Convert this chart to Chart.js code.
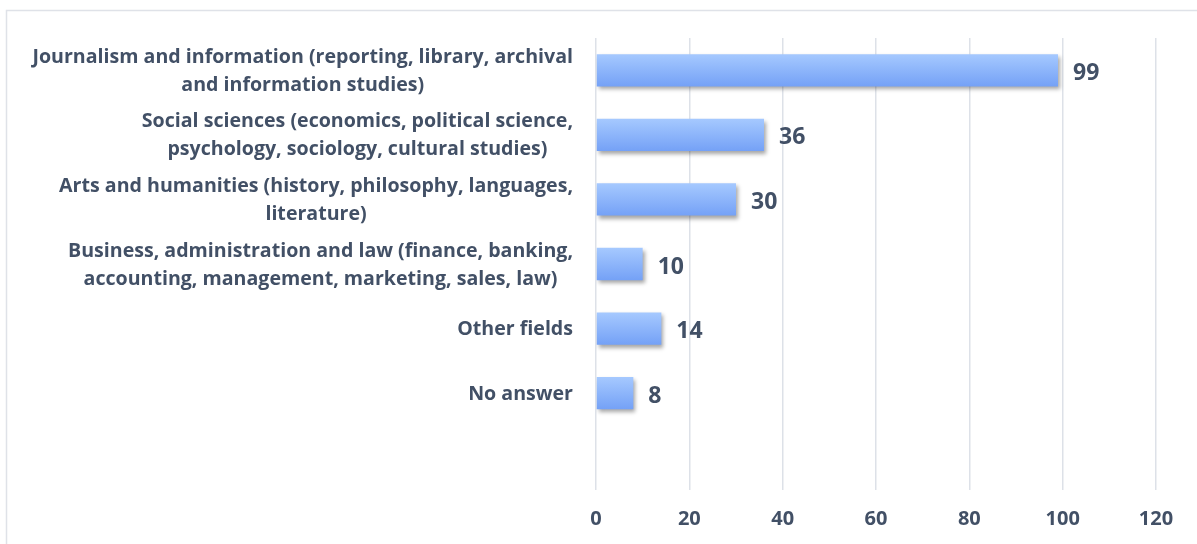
<!DOCTYPE html>
<html>
<head>
<meta charset="utf-8">
<script src="https://cdn.jsdelivr.net/npm/chart.js@4"></script>
<style>
  html, body { margin: 0; padding: 0; background: #fff; }
  #wrap { width: 1197px; height: 544px; position: relative; }
</style>
</head>
<body>
<div id="wrap"><canvas id="barChart"></canvas></div>
<script>
// categories (last one left empty, as in the original axis)
const categories = [
  ["Journalism and information (reporting, library, archival", "and information studies)"],
  ["Social sciences (economics, political science,", "psychology, sociology, cultural studies)"],
  ["Arts and humanities (history, philosophy, languages,", "literature)"],
  ["Business, administration and law (finance, banking,", "accounting, management, marketing, sales, law)"],
  ["Other fields"],
  ["No answer"],
  [""]
];
const counts = [99, 36, 30, 10, 14, 8, null];
const xTicks = [0, 20, 40, 60, 80, 100, 120];

const textColor = "#425066";
const fontFamily = "'Open Sans', Lato, sans-serif";

// bar fill: vertical gradient per bar
function barFill(ctx) {
  const chart = ctx.chart;
  const y = chart.scales.y;
  if (!y || !chart.chartArea) return "#8fb6fb";
  const c = y.getPixelForValue(ctx.dataIndex);
  const half = 17;
  const g = chart.ctx.createLinearGradient(0, c - half, 0, c + half);
  g.addColorStop(0, "#a7caff");
  g.addColorStop(1, "#73a0f6");
  return g;
}

const framePlugin = {
  id: "frame",
  beforeDraw(chart) {
    const c = chart.ctx;
    c.save();
    c.strokeStyle = "#dfe2e8";
    c.lineWidth = 1.5;
    c.strokeRect(6.5, 10.5, 1250, 600);
    c.restore();
  }
};

const shadowPlugin = {
  id: "barShadow",
  beforeDatasetsDraw(chart) {
    const c = chart.ctx;
    c.save();
    c.shadowColor = "rgba(0,0,0,0.35)";
    c.shadowBlur = 4;
    c.shadowOffsetX = 2;
    c.shadowOffsetY = 3;
  },
  afterDatasetsDraw(chart) {
    chart.ctx.restore();
  }
};

// value labels next to bars
const valueLabels = {
  id: "valueLabels",
  afterDatasetsDraw(chart) {
    const c = chart.ctx;
    const meta = chart.getDatasetMeta(0);
    c.save();
    c.fillStyle = textColor;
    c.font = "bold 23px " + fontFamily;
    c.textBaseline = "middle";
    c.textAlign = "left";
    meta.data.forEach((bar, i) => {
      if (counts[i] == null) return;
      c.fillText(String(counts[i]), bar.x + 15, bar.y + 3);
    });
    c.restore();
  }
};

// category labels: block right-aligned, lines centred within the block
const catLabels = {
  id: "catLabels",
  afterDraw(chart) {
    const c = chart.ctx;
    const y = chart.scales.y;
    const right = chart.chartArea.left - 23;
    const lh = 28;
    c.save();
    c.fillStyle = textColor;
    c.font = "bold 19.6px " + fontFamily;
    c.textBaseline = "middle";
    c.textAlign = "center";
    categories.forEach((lines, i) => {
      const w = Math.max(...lines.map(l => c.measureText(l).width));
      const cx = right - w / 2;
      const cy = y.getPixelForValue(i) + 1;
      const top = cy - (lines.length - 1) * lh / 2;
      lines.forEach((l, k) => c.fillText(l, cx, top + k * lh));
    });
    c.restore();
  }
};

new Chart(document.getElementById("barChart"), {
  type: "bar",
  data: {
    labels: categories,
    datasets: [
      {
        data: counts,
        backgroundColor: barFill,
        barPercentage: 0.5,
        categoryPercentage: 1,
      },
    ],
  },
  options: {
    indexAxis: "y",
    responsive: true,
    maintainAspectRatio: false,
    animation: false,
    layout: { padding: { top: 38, right: 41, left: 0, bottom: 0 } },
    plugins: {
      legend: { display: false },
      tooltip: { enabled: false },
    },
    scales: {
      x: {
        min: 0,
        max: 120,
        afterBuildTicks(scale) {
          scale.ticks = xTicks.map(v => ({ value: v }));
        },
        afterFit(scale) { scale.height = 54; },
        grid: { color: "#dde1e8", lineWidth: 1.5, drawTicks: false },
        border: { display: false },
        ticks: {
          padding: 17,
          color: textColor,
          font: { family: fontFamily, size: 20, weight: "bold" },
        },
      },
      y: {
        afterFit(scale) { scale.width = 596; },
        grid: { display: false },
        border: { display: false },
        ticks: { display: false },
      },
    },
  },
  plugins: [framePlugin, shadowPlugin, valueLabels, catLabels],
});
</script>
</body>
</html>
